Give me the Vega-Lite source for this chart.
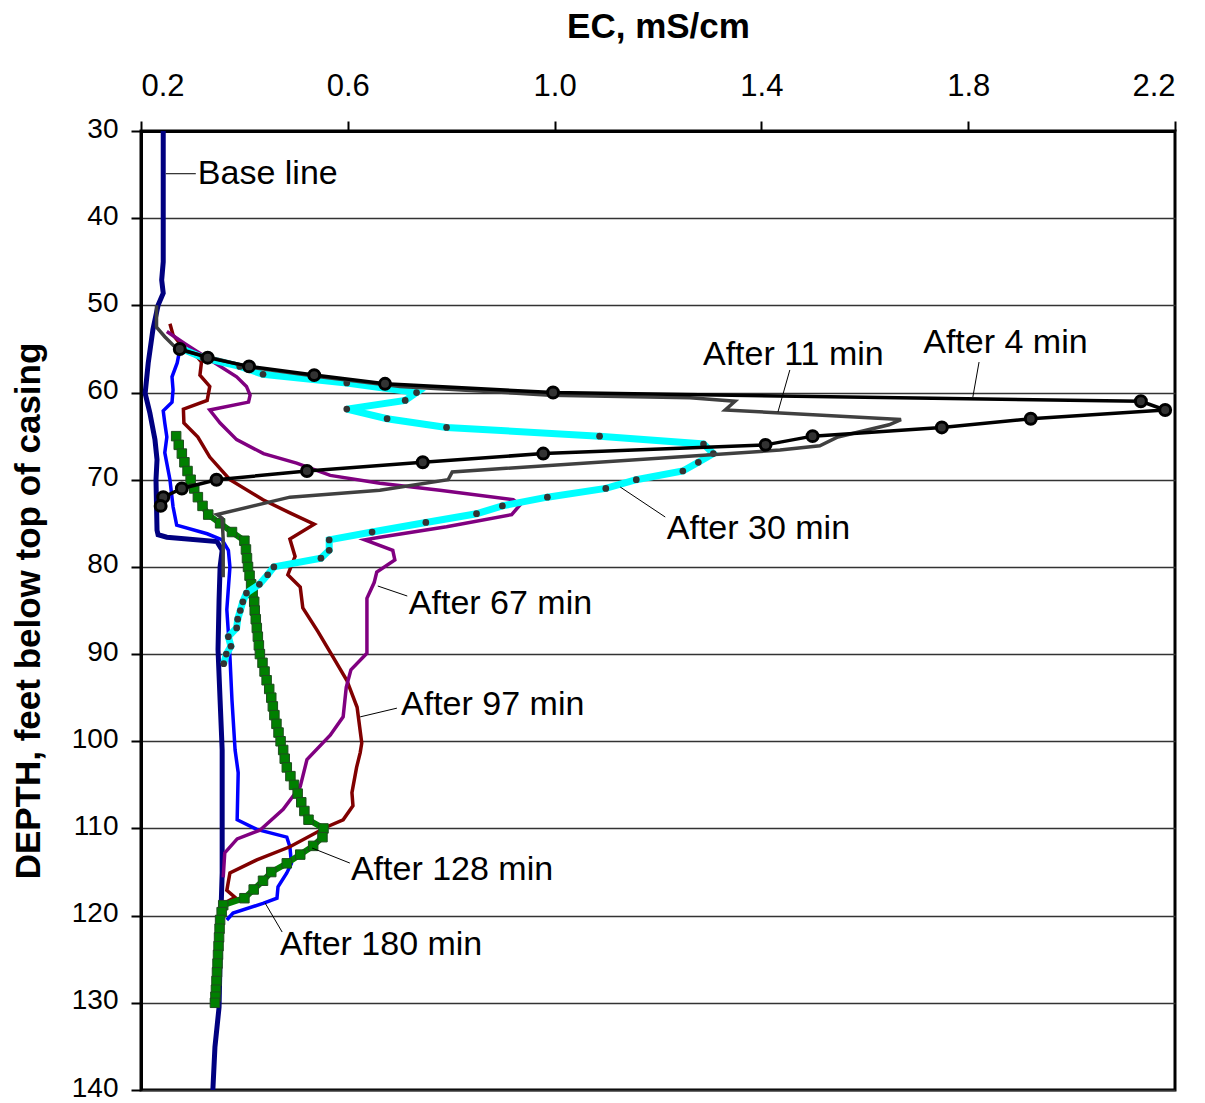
{
  "$schema": "https://vega.github.io/schema/vega-lite/v6.json",
  "width": 1034,
  "height": 959,
  "autosize": "none",
  "padding": {"left": 141, "top": 131, "right": 30, "bottom": 13},
  "background": "white",
  "config": {
    "font": "Liberation Sans",
    "view": {"stroke": "black", "strokeWidth": 3},
    "axis": {
      "domainColor": "black", "domainWidth": 3,
      "tickColor": "black", "tickWidth": 2, "tickSize": 10,
      "labelColor": "black", "titleColor": "black",
      "labelFont": "Liberation Sans", "labelFontSize": 28,
      "titleFont": "Liberation Sans", "titleFontSize": 35, "titleFontWeight": "bold"
    }
  },
  "datasets": {
    "lines": [
      {"s":"base","ec":0.243,"d":30},{"s":"base","ec":0.243,"d":45},{"s":"base","ec":0.240,"d":47.1},{"s":"base","ec":0.243,"d":48.6},{"s":"base","ec":0.233,"d":50.0},{"s":"base","ec":0.223,"d":52.8},{"s":"base","ec":0.214,"d":56.6},{"s":"base","ec":0.208,"d":60.1},{"s":"base","ec":0.217,"d":62.3},{"s":"base","ec":0.227,"d":65.4},{"s":"base","ec":0.231,"d":67.7},{"s":"base","ec":0.229,"d":70.0},{"s":"base","ec":0.231,"d":75.8},{"s":"base","ec":0.233,"d":76.3},{"s":"base","ec":0.250,"d":76.6},{"s":"base","ec":0.347,"d":77.1},{"s":"base","ec":0.357,"d":78.1},{"s":"base","ec":0.353,"d":80.0},{"s":"base","ec":0.351,"d":83.8},{"s":"base","ec":0.349,"d":89.5},{"s":"base","ec":0.353,"d":95.3},{"s":"base","ec":0.357,"d":101.0},{"s":"base","ec":0.357,"d":115.1},{"s":"base","ec":0.355,"d":119.0},{"s":"base","ec":0.351,"d":130.5},{"s":"base","ec":0.343,"d":135.1},{"s":"base","ec":0.339,"d":140},

      {"s":"m180","ec":0.275,"d":55.1},{"s":"m180","ec":0.270,"d":56.6},{"s":"m180","ec":0.260,"d":58.2},{"s":"m180","ec":0.262,"d":59.7},{"s":"m180","ec":0.260,"d":61.1},{"s":"m180","ec":0.243,"d":62.1},{"s":"m180","ec":0.246,"d":63.5},{"s":"m180","ec":0.250,"d":65.1},{"s":"m180","ec":0.246,"d":66.9},{"s":"m180","ec":0.256,"d":70.0},{"s":"m180","ec":0.262,"d":73.1},{"s":"m180","ec":0.269,"d":75.2},{"s":"m180","ec":0.328,"d":76.2},{"s":"m180","ec":0.357,"d":76.9},{"s":"m180","ec":0.369,"d":78.1},{"s":"m180","ec":0.372,"d":80.0},{"s":"m180","ec":0.366,"d":84.9},{"s":"m180","ec":0.372,"d":90.3},{"s":"m180","ec":0.376,"d":95.3},{"s":"m180","ec":0.382,"d":101.0},{"s":"m180","ec":0.388,"d":103.6},{"s":"m180","ec":0.386,"d":109.0},{"s":"m180","ec":0.424,"d":110.1},{"s":"m180","ec":0.482,"d":111.0},{"s":"m180","ec":0.488,"d":112.1},{"s":"m180","ec":0.491,"d":114.0},{"s":"m180","ec":0.482,"d":115.1},{"s":"m180","ec":0.465,"d":116.7},{"s":"m180","ec":0.463,"d":118.0},{"s":"m180","ec":0.436,"d":118.6},{"s":"m180","ec":0.378,"d":119.7},{"s":"m180","ec":0.366,"d":120.5},

      {"s":"m97","ec":0.256,"d":52.1},{"s":"m97","ec":0.262,"d":53.4},{"s":"m97","ec":0.281,"d":54.8},{"s":"m97","ec":0.310,"d":56.0},{"s":"m97","ec":0.317,"d":56.5},{"s":"m97","ec":0.314,"d":58.0},{"s":"m97","ec":0.333,"d":59.3},{"s":"m97","ec":0.328,"d":60.9},{"s":"m97","ec":0.282,"d":61.9},{"s":"m97","ec":0.283,"d":63.5},{"s":"m97","ec":0.310,"d":65.1},{"s":"m97","ec":0.333,"d":67.4},{"s":"m97","ec":0.372,"d":70.0},{"s":"m97","ec":0.436,"d":72.3},{"s":"m97","ec":0.488,"d":73.8},{"s":"m97","ec":0.535,"d":75.1},{"s":"m97","ec":0.488,"d":76.8},{"s":"m97","ec":0.498,"d":78.8},{"s":"m97","ec":0.484,"d":80.9},{"s":"m97","ec":0.508,"d":82.3},{"s":"m97","ec":0.513,"d":84.7},{"s":"m97","ec":0.542,"d":87.4},{"s":"m97","ec":0.571,"d":90.3},{"s":"m97","ec":0.598,"d":93.0},{"s":"m97","ec":0.618,"d":96.1},{"s":"m97","ec":0.627,"d":100.2},{"s":"m97","ec":0.624,"d":101.3},{"s":"m97","ec":0.617,"d":103.0},{"s":"m97","ec":0.608,"d":105.9},{"s":"m97","ec":0.610,"d":107.4},{"s":"m97","ec":0.591,"d":109.0},{"s":"m97","ec":0.560,"d":109.8},{"s":"m97","ec":0.488,"d":112.1},{"s":"m97","ec":0.424,"d":113.6},{"s":"m97","ec":0.372,"d":115.1},{"s":"m97","ec":0.366,"d":117.1},{"s":"m97","ec":0.382,"d":117.9},{"s":"m97","ec":0.366,"d":118.4},

      {"s":"m67","ec":0.250,"d":53.0},{"s":"m67","ec":0.285,"d":54.4},{"s":"m67","ec":0.340,"d":56.5},{"s":"m67","ec":0.385,"d":58.2},{"s":"m67","ec":0.404,"d":59.3},{"s":"m67","ec":0.411,"d":60.3},{"s":"m67","ec":0.408,"d":61.1},{"s":"m67","ec":0.333,"d":62.0},{"s":"m67","ec":0.353,"d":63.5},{"s":"m67","ec":0.385,"d":65.4},{"s":"m67","ec":0.437,"d":67.0},{"s":"m67","ec":0.501,"d":68.1},{"s":"m67","ec":0.566,"d":69.5},{"s":"m67","ec":0.662,"d":70.4},{"s":"m67","ec":0.778,"d":71.2},{"s":"m67","ec":0.920,"d":72.3},{"s":"m67","ec":0.933,"d":72.9},{"s":"m67","ec":0.917,"d":74.0},{"s":"m67","ec":0.791,"d":75.4},{"s":"m67","ec":0.662,"d":76.6},{"s":"m67","ec":0.633,"d":76.9},{"s":"m67","ec":0.687,"d":78.1},{"s":"m67","ec":0.691,"d":79.2},{"s":"m67","ec":0.656,"d":80.6},{"s":"m67","ec":0.651,"d":81.8},{"s":"m67","ec":0.637,"d":83.6},{"s":"m67","ec":0.637,"d":89.9},{"s":"m67","ec":0.606,"d":91.8},{"s":"m67","ec":0.597,"d":93.8},{"s":"m67","ec":0.591,"d":97.2},{"s":"m67","ec":0.566,"d":99.3},{"s":"m67","ec":0.521,"d":102.1},{"s":"m67","ec":0.508,"d":105.2},{"s":"m67","ec":0.475,"d":107.8},{"s":"m67","ec":0.430,"d":110.2},{"s":"m67","ec":0.386,"d":111.2},{"s":"m67","ec":0.362,"d":112.8},{"s":"m67","ec":0.359,"d":115.6},

      {"s":"m128","ec":0.268,"d":65},{"s":"m128","ec":0.273,"d":66},{"s":"m128","ec":0.279,"d":67},{"s":"m128","ec":0.284,"d":68},{"s":"m128","ec":0.290,"d":69},{"s":"m128","ec":0.296,"d":70},{"s":"m128","ec":0.303,"d":71},{"s":"m128","ec":0.310,"d":72},{"s":"m128","ec":0.319,"d":73},{"s":"m128","ec":0.330,"d":74},{"s":"m128","ec":0.353,"d":75},{"s":"m128","ec":0.376,"d":76},{"s":"m128","ec":0.400,"d":77},{"s":"m128","ec":0.403,"d":78},{"s":"m128","ec":0.405,"d":79},{"s":"m128","ec":0.407,"d":80},{"s":"m128","ec":0.410,"d":81},{"s":"m128","ec":0.413,"d":82},{"s":"m128","ec":0.416,"d":83},{"s":"m128","ec":0.419,"d":84},{"s":"m128","ec":0.420,"d":85},{"s":"m128","ec":0.422,"d":86},{"s":"m128","ec":0.424,"d":87},{"s":"m128","ec":0.426,"d":88},{"s":"m128","ec":0.428,"d":89},{"s":"m128","ec":0.430,"d":90},{"s":"m128","ec":0.435,"d":91},{"s":"m128","ec":0.439,"d":92},{"s":"m128","ec":0.443,"d":93},{"s":"m128","ec":0.448,"d":94},{"s":"m128","ec":0.452,"d":95},{"s":"m128","ec":0.455,"d":96},{"s":"m128","ec":0.458,"d":97},{"s":"m128","ec":0.462,"d":98},{"s":"m128","ec":0.466,"d":99},{"s":"m128","ec":0.470,"d":100},{"s":"m128","ec":0.475,"d":101},{"s":"m128","ec":0.478,"d":102},{"s":"m128","ec":0.482,"d":103},{"s":"m128","ec":0.489,"d":104},{"s":"m128","ec":0.496,"d":105},{"s":"m128","ec":0.503,"d":106},{"s":"m128","ec":0.510,"d":107},{"s":"m128","ec":0.516,"d":108},{"s":"m128","ec":0.524,"d":109},{"s":"m128","ec":0.553,"d":110},{"s":"m128","ec":0.551,"d":111},{"s":"m128","ec":0.533,"d":112},{"s":"m128","ec":0.508,"d":113},{"s":"m128","ec":0.482,"d":114},{"s":"m128","ec":0.452,"d":115},{"s":"m128","ec":0.436,"d":116},{"s":"m128","ec":0.418,"d":117},{"s":"m128","ec":0.400,"d":118},{"s":"m128","ec":0.359,"d":118.8},{"s":"m128","ec":0.356,"d":119.6},{"s":"m128","ec":0.353,"d":120.5},{"s":"m128","ec":0.352,"d":121.5},{"s":"m128","ec":0.351,"d":122.5},{"s":"m128","ec":0.350,"d":123.5},{"s":"m128","ec":0.349,"d":124.5},{"s":"m128","ec":0.348,"d":125.5},{"s":"m128","ec":0.347,"d":126.5},{"s":"m128","ec":0.346,"d":127.5},{"s":"m128","ec":0.345,"d":128.5},{"s":"m128","ec":0.344,"d":129.3},{"s":"m128","ec":0.343,"d":130},

      {"s":"m30","ec":0.280,"d":55},{"s":"m30","ec":0.320,"d":56},{"s":"m30","ec":0.391,"d":57.0},{"s":"m30","ec":0.436,"d":57.9},{"s":"m30","ec":0.598,"d":58.9},{"s":"m30","ec":0.733,"d":60.0},{"s":"m30","ec":0.711,"d":60.9},{"s":"m30","ec":0.598,"d":61.9},{"s":"m30","ec":0.676,"d":63.0},{"s":"m30","ec":0.791,"d":64.0},{"s":"m30","ec":1.087,"d":65.0},{"s":"m30","ec":1.288,"d":65.9},{"s":"m30","ec":1.307,"d":67.0},{"s":"m30","ec":1.278,"d":68.0},{"s":"m30","ec":1.248,"d":69.0},{"s":"m30","ec":1.158,"d":70.0},{"s":"m30","ec":1.099,"d":71.0},{"s":"m30","ec":0.986,"d":72.0},{"s":"m30","ec":0.899,"d":73.0},{"s":"m30","ec":0.849,"d":73.9},{"s":"m30","ec":0.751,"d":74.9},{"s":"m30","ec":0.647,"d":76.0},{"s":"m30","ec":0.564,"d":76.9},{"s":"m30","ec":0.564,"d":78.1},{"s":"m30","ec":0.548,"d":79.0},{"s":"m30","ec":0.457,"d":80.0},{"s":"m30","ec":0.445,"d":80.9},{"s":"m30","ec":0.429,"d":82.0},{"s":"m30","ec":0.404,"d":83.0},{"s":"m30","ec":0.397,"d":84.0},{"s":"m30","ec":0.392,"d":85.0},{"s":"m30","ec":0.387,"d":86.0},{"s":"m30","ec":0.385,"d":87.0},{"s":"m30","ec":0.369,"d":88.0},{"s":"m30","ec":0.374,"d":89.1},{"s":"m30","ec":0.365,"d":90.0},{"s":"m30","ec":0.360,"d":91.1},

      {"s":"m11","ec":0.230,"d":50.0},{"s":"m11","ec":0.230,"d":52.5},{"s":"m11","ec":0.246,"d":53.6},{"s":"m11","ec":0.266,"d":54.8},{"s":"m11","ec":0.275,"d":55.1},{"s":"m11","ec":0.411,"d":57.1},{"s":"m11","ec":0.546,"d":58.2},{"s":"m11","ec":0.701,"d":59.3},{"s":"m11","ec":0.991,"d":60.3},{"s":"m11","ec":1.262,"d":60.6},{"s":"m11","ec":1.349,"d":61.0},{"s":"m11","ec":1.330,"d":62.0},{"s":"m11","ec":1.670,"d":63.1},{"s":"m11","ec":1.647,"d":63.7},{"s":"m11","ec":1.548,"d":65.1},{"s":"m11","ec":1.513,"d":66.1},{"s":"m11","ec":1.436,"d":66.6},{"s":"m11","ec":0.802,"d":69.1},{"s":"m11","ec":0.794,"d":70.0},{"s":"m11","ec":0.662,"d":71.2},{"s":"m11","ec":0.488,"d":72.0},{"s":"m11","ec":0.347,"d":74.0},{"s":"m11","ec":0.357,"d":74.4},{"s":"m11","ec":0.359,"d":76.9},{"s":"m11","ec":0.359,"d":81.2},

      {"s":"m4","ec":0.275,"d":55},{"s":"m4","ec":0.329,"d":56},{"s":"m4","ec":0.409,"d":57},{"s":"m4","ec":0.535,"d":58},{"s":"m4","ec":0.672,"d":59},{"s":"m4","ec":0.997,"d":60},{"s":"m4","ec":2.134,"d":61},{"s":"m4","ec":2.181,"d":62},{"s":"m4","ec":1.921,"d":63},{"s":"m4","ec":1.749,"d":64},{"s":"m4","ec":1.499,"d":65},{"s":"m4","ec":1.408,"d":66},{"s":"m4","ec":0.978,"d":67},{"s":"m4","ec":0.745,"d":68},{"s":"m4","ec":0.521,"d":69},{"s":"m4","ec":0.346,"d":70},{"s":"m4","ec":0.279,"d":71},{"s":"m4","ec":0.243,"d":72},{"s":"m4","ec":0.238,"d":73}
    ],
    "labels": [
      {"t":"Base line","ec":0.310,"d":34.9},
      {"t":"After 4 min","ec":1.713,"d":54.3},
      {"t":"After 11 min","ec":1.287,"d":55.7},
      {"t":"After 30 min","ec":1.217,"d":75.65},
      {"t":"After 67 min","ec":0.718,"d":84.26},
      {"t":"After 97 min","ec":0.703,"d":95.84},
      {"t":"After 128 min","ec":0.606,"d":114.77},
      {"t":"After 180 min","ec":0.469,"d":123.37}
    ],
    "leaders": [
      {"ec":0.248,"d":34.9,"ec2":0.306,"d2":34.9},
      {"ec":1.821,"d":56.5,"ec2":1.809,"d2":60.51},
      {"ec":1.455,"d":57.41,"ec2":1.432,"d2":62.23},
      {"ec":1.127,"d":70.84,"ec2":1.214,"d2":74.28},
      {"ec":0.658,"d":82.19,"ec2":0.715,"d2":83.34},
      {"ec":0.624,"d":97.2,"ec2":0.695,"d2":96.2},
      {"ec":0.531,"d":112.25,"ec2":0.604,"d2":113.97},
      {"ec":0.440,"d":118.55,"ec2":0.473,"d2":121.88}
    ]
  },
  "encoding": {
    "x": {
      "field": "ec", "type": "quantitative",
      "scale": {"domain": [0.2, 2.2], "nice": false, "zero": false},
      "axis": {"orient": "top", "values": [0.2, 0.6, 1.0, 1.4, 1.8, 2.2], "format": ".1f", "title": "EC, mS/cm", "grid": false, "labelFontSize": 31, "labelPadding": 19, "titlePadding": 26}
    },
    "y": {
      "field": "d", "type": "quantitative",
      "scale": {"domain": [30, 140], "reverse": true, "nice": false, "zero": false},
      "axis": {"values": [30, 40, 50, 60, 70, 80, 90, 100, 110, 120, 130, 140], "title": "DEPTH, feet below top of casing", "grid": true, "gridColor": "#333333", "gridWidth": 1.5, "labelPadding": 13, "labelOffset": -2, "titlePadding": 25}
    }
  },
  "layer": [
    {"data": {"name": "lines"}, "transform": [{"filter": "datum.s == 'base'"}], "mark": {"type": "line", "color": "#000080", "strokeWidth": 5}, "encoding": {"order": {"value": null}}},
    {"data": {"name": "lines"}, "transform": [{"filter": "datum.s == 'm180'"}], "mark": {"type": "line", "color": "#0000ff", "strokeWidth": 3.5}, "encoding": {"order": {"value": null}}},
    {"data": {"name": "lines"}, "transform": [{"filter": "datum.s == 'm97'"}], "mark": {"type": "line", "color": "#800000", "strokeWidth": 3.5}, "encoding": {"order": {"value": null}}},
    {"data": {"name": "lines"}, "transform": [{"filter": "datum.s == 'm67'"}], "mark": {"type": "line", "color": "#800080", "strokeWidth": 3.5}, "encoding": {"order": {"value": null}}},
    {"data": {"name": "lines"}, "transform": [{"filter": "datum.s == 'm128'"}], "mark": {"type": "line", "color": "#008000", "strokeWidth": 6}, "encoding": {"order": {"value": null}}},
    {"data": {"name": "lines"}, "transform": [{"filter": "datum.s == 'm128'"}], "mark": {"type": "point", "shape": "square", "filled": true, "color": "#008000", "stroke": "#1e4d1e", "strokeWidth": 1, "size": 90, "opacity": 1}, "encoding": {}},
    {"data": {"name": "lines"}, "transform": [{"filter": "datum.s == 'm30'"}], "mark": {"type": "line", "color": "#00ffff", "strokeWidth": 7}, "encoding": {"order": {"value": null}}},
    {"data": {"name": "lines"}, "transform": [{"filter": "datum.s == 'm30'"}], "mark": {"type": "point", "shape": "circle", "filled": true, "color": "#333333", "size": 45, "opacity": 1}, "encoding": {}},
    {"data": {"name": "lines"}, "transform": [{"filter": "datum.s == 'm11'"}], "mark": {"type": "line", "color": "#404040", "strokeWidth": 3.5}, "encoding": {"order": {"value": null}}},
    {"data": {"name": "lines"}, "transform": [{"filter": "datum.s == 'm4'"}], "mark": {"type": "line", "color": "#000000", "strokeWidth": 3.5}, "encoding": {"order": {"value": null}}},
    {"data": {"name": "lines"}, "transform": [{"filter": "datum.s == 'm4'"}], "mark": {"type": "point", "shape": "circle", "filled": true, "fill": "#333333", "stroke": "#000000", "strokeWidth": 3, "size": 120, "opacity": 1}, "encoding": {}},
    {"data": {"name": "leaders"}, "mark": {"type": "rule", "color": "#000000", "strokeWidth": 1}, "encoding": {"x2": {"field": "ec2"}, "y2": {"field": "d2"}}},
    {"data": {"name": "labels"}, "mark": {"type": "text", "align": "left", "baseline": "middle", "font": "Liberation Sans", "fontSize": 34, "color": "#000000"}, "encoding": {"text": {"field": "t"}}}
  ]
}
